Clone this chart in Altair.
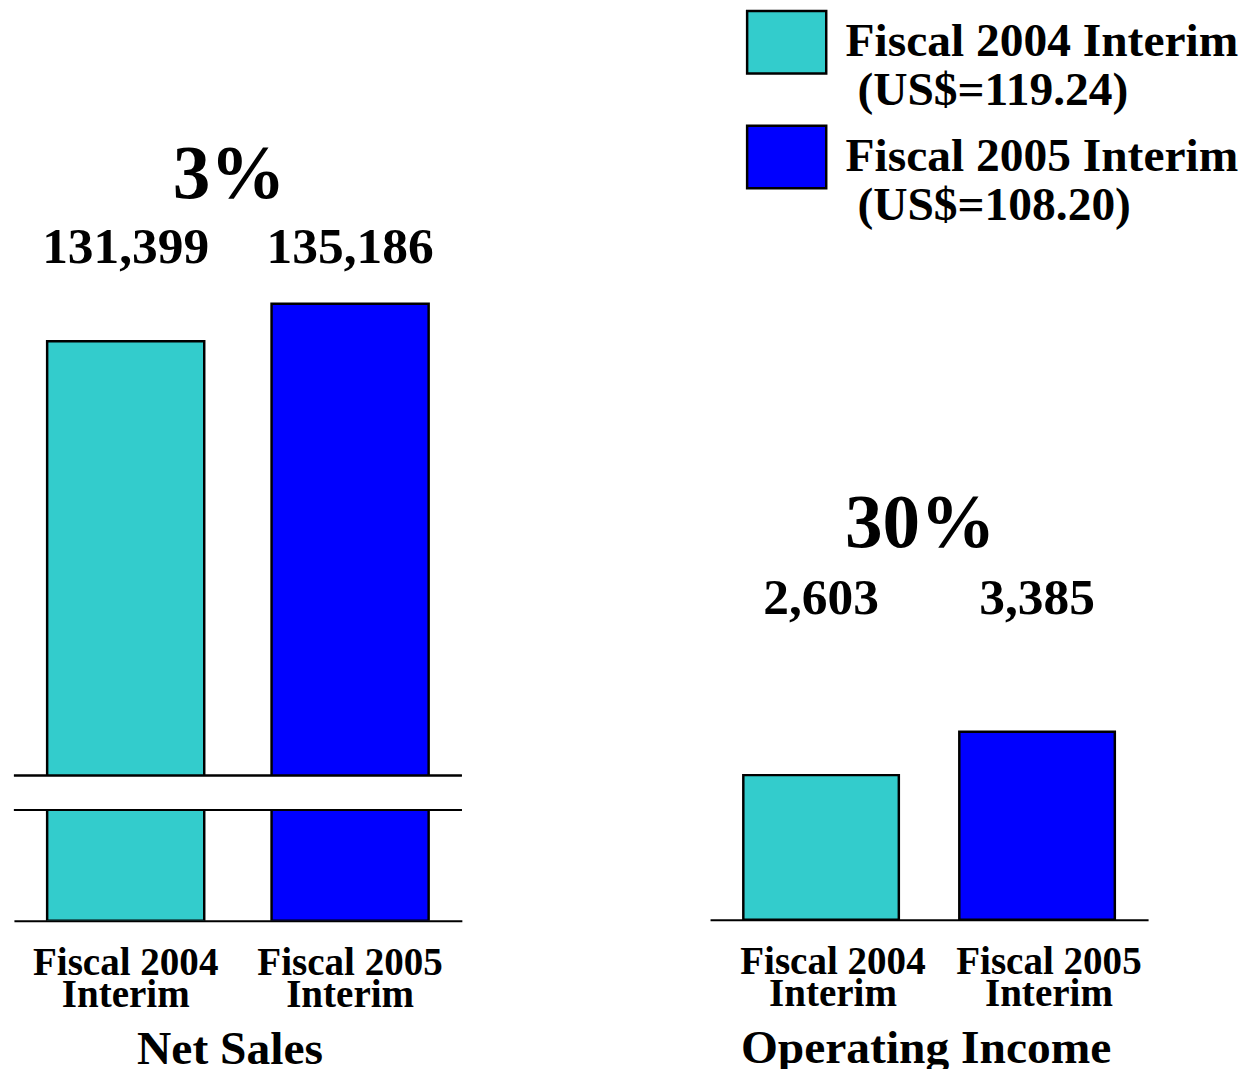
import altair as alt
import pandas as pd

# ---- data ----
periods = ["Fiscal 2004\nInterim", "Fiscal 2005\nInterim"]
legend_rates = ["(US$=119.24)", "(US$=108.20)"]
net_sales = [131399, 135186]
operating_income = [2603, 3385]
growth = ["3%", "30%"]
colors = ["#33CCCC", "#0000FF"]

FONT = "Liberation Serif"

ns_df = pd.DataFrame({"period": periods, "value": net_sales,
                      "label": [f"{v:,}" for v in net_sales]})
oi_df = pd.DataFrame({"period": periods, "value": operating_income,
                      "label": [f"{v:,}" for v in operating_income]})

INDENT = "\u200b\u00a0"
legend_label_expr = (
    "datum.label == 'Fiscal 2004\\nInterim' ? ['Fiscal 2004 Interim', '" + INDENT + legend_rates[0] + "'] : "
    "['Fiscal 2005 Interim', '" + INDENT + legend_rates[1] + "']"
)

color = alt.Color(
    "period:N",
    scale=alt.Scale(domain=periods, range=colors),
    legend=alt.Legend(
        title=None, orient="none", legendX=740, legendY=-15, padding=0,
        symbolType="M-1,-0.79L1,-0.79L1,0.79L-1,0.79Z", symbolSize=6400,
        symbolStrokeColor="black", symbolStrokeWidth=2.5, symbolOpacity=1,
        labelFont=FONT, labelFontSize=48, labelFontWeight="bold", labelColor="black",
        labelLimit=0, labelOffset=18, rowPadding=0,
        labelExpr=legend_label_expr,
    ),
)

WL, WR = 453, 443
TOP_H, LOW_H, RIGHT_H = 768, 112, 914

xL = alt.X("period:N", sort=periods, axis=None,
           scale=alt.Scale(paddingInner=0.30, paddingOuter=0.148))

axis_bottom = dict(
    labelExpr="split(datum.label, '\\n')", labelAngle=0, labelFont=FONT,
    labelFontSize=39.5, labelFontWeight="bold", labelColor="black", labelLineHeight=33,
    labelPadding=23, ticks=False, domainColor="black", domainWidth=2,
    titleFont=FONT, titleFontSize=48, titleFontWeight="bold", titleColor="black",
    titlePadding=12, labelLimit=0, titleX=218, titleAlign="center",
)

# ---- Net Sales, upper part of broken axis ----
ns_lo, ns_hi = 87650, 164190
top_y = alt.Scale(domain=[ns_lo, ns_hi], zero=False, nice=False)
top_base = alt.Chart(ns_df)
top = alt.layer(
    top_base.mark_bar(clip=True, stroke="black", strokeWidth=2.5).encode(
        x=xL, y=alt.Y("value:Q", scale=top_y, axis=None), color=color),
    top_base.mark_rule(color="black", strokeWidth=2).encode(
        y=alt.YDatum(ns_lo, axis=None)),
    top_base.mark_text(font=FONT, fontSize=52, fontWeight="bold", color="black").encode(
        x=xL, y=alt.YDatum(140870, axis=None), text="label:N"),
    alt.Chart(pd.DataFrame({"g": [growth[0]]})).mark_text(
        font=FONT, fontSize=76, fontWeight="bold", color="black", dx=-9).encode(
        x=alt.value(WL / 2), y=alt.YDatum(148150, axis=None), text="g:N"),
).properties(width=WL, height=TOP_H)

# ---- Net Sales, lower part of broken axis ----
low_top = 20000
low_base = alt.Chart(ns_df)
xL_axis = alt.X("period:N", sort=periods,
                scale=alt.Scale(paddingInner=0.30, paddingOuter=0.148),
                axis=alt.Axis(title="Net Sales", **axis_bottom))
low = alt.layer(
    low_base.mark_bar(clip=True, stroke="black", strokeWidth=2.5).encode(
        x=xL_axis, y=alt.Y("value:Q", scale=alt.Scale(domain=[0, low_top], nice=False), axis=None),
        color=color),
    low_base.mark_rule(color="black", strokeWidth=2).encode(
        y=alt.YDatum(low_top, axis=None)),
).properties(width=WL, height=LOW_H)

left = alt.vconcat(top, low, spacing=33)

# ---- Operating Income ----
oi_hi = 16263
xR = alt.X("period:N", sort=periods,
           scale=alt.Scale(paddingInner=0.28, paddingOuter=0.154),
           axis=alt.Axis(title="Operating Income", labelOffset=12, **axis_bottom))
r_base = alt.Chart(oi_df)
right = alt.layer(
    r_base.mark_bar(stroke="black", strokeWidth=2.5).encode(
        x=xR, y=alt.Y("value:Q", scale=alt.Scale(domain=[0, oi_hi], nice=False), axis=None),
        color=color),
    r_base.mark_text(font=FONT, fontSize=52, fontWeight="bold", color="black").encode(
        x=xR, y=alt.YDatum(5783, axis=None), text="label:N"),
    alt.Chart(pd.DataFrame({"g": [growth[1]]})).mark_text(
        font=FONT, fontSize=76, fontWeight="bold", color="black", dx=-9).encode(
        x=alt.value(WR / 2), y=alt.YDatum(7117, axis=None), text="g:N"),
).properties(width=WR, height=RIGHT_H)

chart = alt.hconcat(left, right, spacing=250).properties(
    padding={"left": 5, "top": -13, "right": 5, "bottom": 5}
).configure(background="white").configure_view(stroke=None)

chart.save("out.html", embed_options={"renderer": "svg", "actions": False})
